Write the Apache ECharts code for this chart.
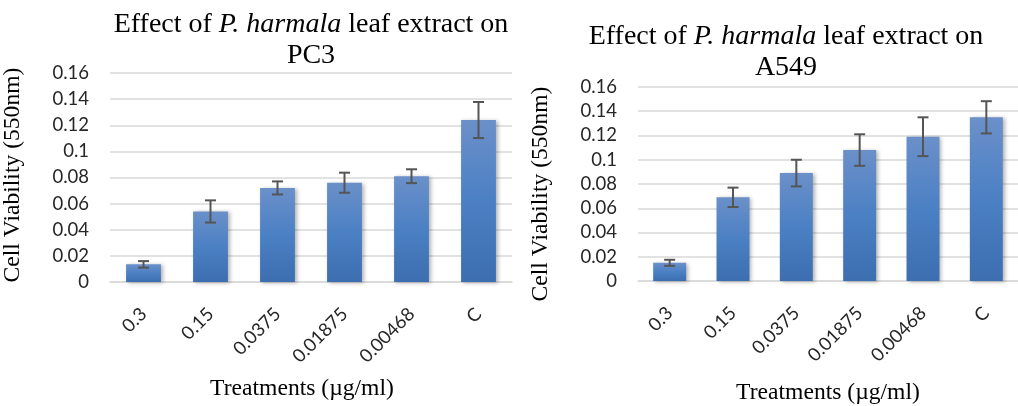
<!DOCTYPE html>
<html>
<head>
<meta charset="utf-8">
<script src="https://cdn.jsdelivr.net/npm/echarts@6/dist/echarts.min.js"></script>
<style>
html,body{margin:0;padding:0;background:#fff;}
#chart{width:1018px;height:406px;}
</style>
</head>
<body>
<div id="chart"></div>
<script>
const categories = ['0.3', '0.15', '0.0375', '0.01875', '0.00468', 'C'];
const pc3Values = [0.0135, 0.054, 0.072, 0.076, 0.081, 0.124];
const pc3Errors = [0.0025, 0.0085, 0.005, 0.0077, 0.0053, 0.0138];
const a549Values = [0.015, 0.069, 0.089, 0.108, 0.119, 0.135];
const a549Errors = [0.0025, 0.008, 0.011, 0.013, 0.016, 0.0133];
const yMin = 0, yMax = 0.16, yStep = 0.02;
const pc3Title = 'PC3';
const a549Title = 'A549';
const yName = 'Cell Viability (550nm)';
const xName = 'Treatments (µg/ml)';

const chart = echarts.init(document.getElementById('chart'), null, {renderer: 'canvas'});

const barColor = new echarts.graphic.LinearGradient(0, 0, 0, 1, [
  {offset: 0, color: '#6b90c9'},
  {offset: 0.5, color: '#4b80c4'},
  {offset: 1, color: '#3c6eb0'}
]);

function errData(vals, errs) {
  return vals.map((v, i) => [i, v - errs[i], v + errs[i]]);
}
function errRender(params, api) {
  const x = api.value(0);
  const lo = api.coord([x, api.value(1)]);
  const hi = api.coord([x, api.value(2)]);
  const hw = 5.5;
  const st = {stroke: '#555555', lineWidth: 2};
  return {type: 'group', children: [
    {type: 'line', shape: {x1: lo[0], y1: lo[1], x2: hi[0], y2: hi[1]}, style: st},
    {type: 'line', shape: {x1: lo[0]-hw, y1: lo[1], x2: lo[0]+hw, y2: lo[1]}, style: st},
    {type: 'line', shape: {x1: hi[0]-hw, y1: hi[1], x2: hi[0]+hw, y2: hi[1]}, style: st}
  ]};
}

const TF = 28;
const titleRich = {
  i: {fontFamily: 'Liberation Serif', fontStyle: 'italic', fontSize: TF, color: '#000', lineHeight: 31}
};
function titleText(cell) {
  return 'Effect of {i|P. harmala} leaf extract on\n' + cell;
}

function yAxis(idx, gap, pad) {
  return {
    type: 'value', gridIndex: idx, min: yMin, max: yMax, interval: yStep,
    name: yName, nameLocation: 'middle', nameGap: gap, nameRotate: 90,
    nameTextStyle: {fontFamily: 'Liberation Serif', fontSize: 23.6, color: '#000', padding: pad},
    axisLine: {show: false}, axisTick: {show: false},
    axisLabel: {fontFamily: 'Lato', fontSize: 18.5, color: '#262626', margin: 21,
      formatter: v => String(+v.toFixed(2))},
    splitLine: {lineStyle: {color: '#d9d9d9', width: 1.5}}
  };
}
function xAxis(idx, gap, pad) {
  return {
    type: 'category', gridIndex: idx, data: categories,
    name: xName, nameLocation: 'middle', nameGap: gap,
    nameTextStyle: {fontFamily: 'Liberation Serif', fontSize: 23.6, color: '#000', verticalAlign: 'top', padding: pad},
    axisLine: {show: true, lineStyle: {color: '#d9d9d9', width: 1.5}},
    axisTick: {show: false},
    axisLabel: {fontFamily: 'Lato', fontSize: 18.5, color: '#262626', rotate: 45, margin: 29, interval: 0}
  };
}
function barSeries(idx, vals) {
  return {
    type: 'bar', xAxisIndex: idx, yAxisIndex: idx, data: vals,
    barCategoryGap: '48%',
    itemStyle: {color: barColor, shadowBlur: 4, shadowColor: 'rgba(0,0,0,0.3)', shadowOffsetX: 2, shadowOffsetY: 1},
    emphasis: {disabled: true}, animation: false
  };
}

chart.setOption({
  animation: false,
  title: [
    {text: titleText(pc3Title), left: 311, top: 9, textAlign: 'center', padding: 0,
     textStyle: {fontFamily: 'Liberation Serif', fontSize: TF, fontWeight: 'normal', color: '#000', lineHeight: 31, rich: titleRich}},
    {text: titleText(a549Title), left: 786, top: 21, textAlign: 'center', padding: 0,
     textStyle: {fontFamily: 'Liberation Serif', fontSize: TF, fontWeight: 'normal', color: '#000', lineHeight: 31, rich: titleRich}}
  ],
  grid: [
    {left: 108, right: 506, top: 73, bottom: 122},
    {left: 638, width: 391, top: 87, bottom: 124}
  ],
  xAxis: [xAxis(0, 95, [0, 18, 0, 0]), xAxis(1, 100, [0, 0, 0, 0])],
  yAxis: [yAxis(0, 85, [0, 0, 0, 5]), yAxis(1, 85, [0, 20, 0, 0])],
  series: [
    barSeries(0, pc3Values),
    {type: 'custom', xAxisIndex: 0, yAxisIndex: 0, data: errData(pc3Values, pc3Errors), renderItem: errRender, z: 10},
    barSeries(1, a549Values),
    {type: 'custom', xAxisIndex: 1, yAxisIndex: 1, data: errData(a549Values, a549Errors), renderItem: errRender, z: 10}
  ]
});
</script>
</body>
</html>
